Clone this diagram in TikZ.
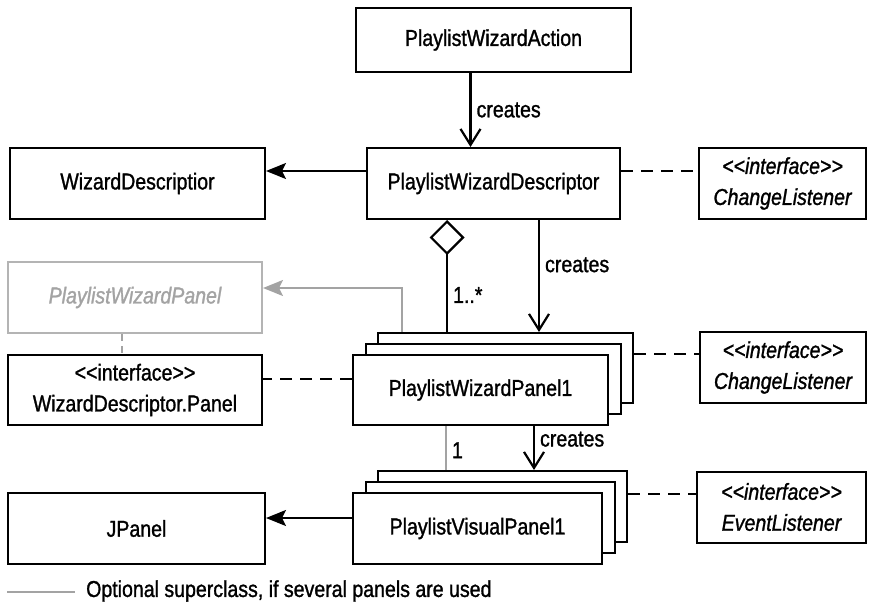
\documentclass[tikz,border=0pt]{standalone}
\usepackage{fontspec}
\setmainfont{Liberation Sans}[FakeStretch=0.85, FakeBold=1.2]
\usepackage{tikz}
\usetikzlibrary{arrows.meta, positioning, calc}
\definecolor{grayline}{HTML}{A3A3A3}
\definecolor{graybox}{HTML}{B4B4B4}

\tikzset{
  classbox/.style={draw=black, fill=white, line width=2pt, inner sep=0pt,
                   minimum height=71pt, align=center,
                   font=\fontsize{23}{31}\selectfont},
  ifacebox/.style={classbox, font=\fontsize{23}{31}\selectfont\itshape},
  lbl/.style={font=\fontsize{23}{26}\selectfont, inner sep=5pt},
  creates/.style={line width=2.2pt, -{Straight Barb[length=16pt,width=20pt]}},
  inherits/.style={line width=2.2pt, -{Stealth[length=20pt,width=16pt,inset=4pt]}},
  realizes/.style={line width=2.2pt, dash pattern=on 12pt off 8pt},
}

\begin{document}
\begin{tikzpicture}[x=1pt, y=-1pt]
    \useasboundingbox (0,0) rectangle (875,608);

    % top row
    \node[classbox, minimum width=275pt, minimum height=64pt] (action) at (493.5,40) {PlaylistWizardAction};
    \node[classbox, minimum width=253pt] (descr) at (493.5,183.5) {PlaylistWizardDescriptor};
    \node[classbox, minimum width=255pt] (wizdescr) at (137.5,183.5) {WizardDescriptior};
    \node[ifacebox, minimum width=167pt] (chlist) at (782.5,183.5) {{<}{<}interface{>}{>}\\ChangeListener};

    % left column
    \node[classbox, draw=graybox, text=grayline, font=\fontsize{23}{31}\selectfont\itshape,
          minimum width=254pt] (superpanel) at (135,297.5) {PlaylistWizardPanel};
    \node[classbox, minimum width=254pt, minimum height=70pt] (panelface) at (135,390)
          {{<}{<}interface{>}{>}\\WizardDescriptor.Panel};
    \node[classbox, minimum width=257pt] (jpanel) at (136.5,528.5) {JPanel};

    % stacked wizard panels
    \node[classbox, minimum width=255pt, minimum height=70pt] (wpanelc) at (505.5,368) {};
    \node[classbox, minimum width=255pt, minimum height=70pt] (wpanelb) at (493,379) {};
    \node[classbox, minimum width=255pt, minimum height=70pt] (wpanel) at (480.5,390) {PlaylistWizardPanel1};
    \node[ifacebox, minimum width=166pt] (chlistb) at (783,367.5) {{<}{<}interface{>}{>}\\ChangeListener};

    % stacked visual panels
    \node[classbox, minimum width=249pt] (vpanelc) at (502.5,506.5) {};
    \node[classbox, minimum width=249pt] (vpanelb) at (490,517.5) {};
    \node[classbox, minimum width=249pt] (vpanel) at (477.5,528.5) {PlaylistVisualPanel1};
    \node[ifacebox, minimum width=169pt] (evlist) at (781.5,507) {{<}{<}interface{>}{>}\\EventListener};

    % connectors
    \draw[creates] ([xshift=-23pt]action.south) -- ([xshift=-23pt]action.south |- descr.north)
        node[lbl, right, midway] {creates};
    \draw[inherits] ([yshift=12.5pt]descr.west) -- ([yshift=12.5pt]wizdescr.east);
    \draw[realizes] ([yshift=12.5pt]descr.east) -- ([yshift=12.5pt]chlist.west);
    \draw[line width=2.2pt, {Diamond[open,length=35pt,width=35pt]}-]
        ([xshift=-46.5pt]descr.south) -- ([xshift=-46.5pt]descr.south |- wpanelc.north)
        node[lbl, right, pos=0.67] {1..*};
    \draw[creates] ([xshift=45.5pt]descr.south) -- ([xshift=45.5pt]descr.south |- wpanelc.north)
        node[lbl, right, pos=0.4] {creates};
    \draw[inherits, draw=grayline, line width=2pt] ([xshift=-103.5pt]wpanelc.north)
        |- ([yshift=9.5pt]superpanel.east);
    \draw[grayline, line width=2pt, dash pattern=on 7pt off 5pt]
        ([xshift=-13pt]superpanel.south) -- ([xshift=-13pt]superpanel.south |- panelface.north);
    \draw[realizes] ([yshift=11pt]wpanel.west) -- ([yshift=11pt]wpanel.west -| panelface.east);
    \draw[realizes] ([yshift=14pt]wpanelc.east) -- ([yshift=14pt]wpanelc.east -| chlistb.west);
    \draw[creates] ([xshift=53.5pt]wpanel.south) -- ([xshift=53.5pt]wpanel.south |- vpanelc.north)
        node[lbl, right, pos=0.3] {creates};
    \draw[grayline, line width=2pt] ([xshift=-34.5pt]wpanel.south) -- ([xshift=-34.5pt]wpanel.south |- vpanelc.north)
        node[lbl, text=black, right, pos=0.55] {1};
    \draw[inherits] ([yshift=10.5pt]vpanel.west) -- ([yshift=10.5pt]vpanel.west -| jpanel.east);
    \draw[realizes] ([yshift=12.5pt]vpanelc.east) -- ([yshift=12.5pt]vpanelc.east -| evlist.west);

    % legend
    \coordinate (legstart) at (7,592);
    \coordinate (legend) at (75,592);
    \draw[grayline, line width=2pt] (legstart) -- (legend);
    \node[lbl, anchor=west, inner sep=0pt] (legtext) at (86,591) {Optional superclass, if several panels are used};
\end{tikzpicture}
\end{document}
